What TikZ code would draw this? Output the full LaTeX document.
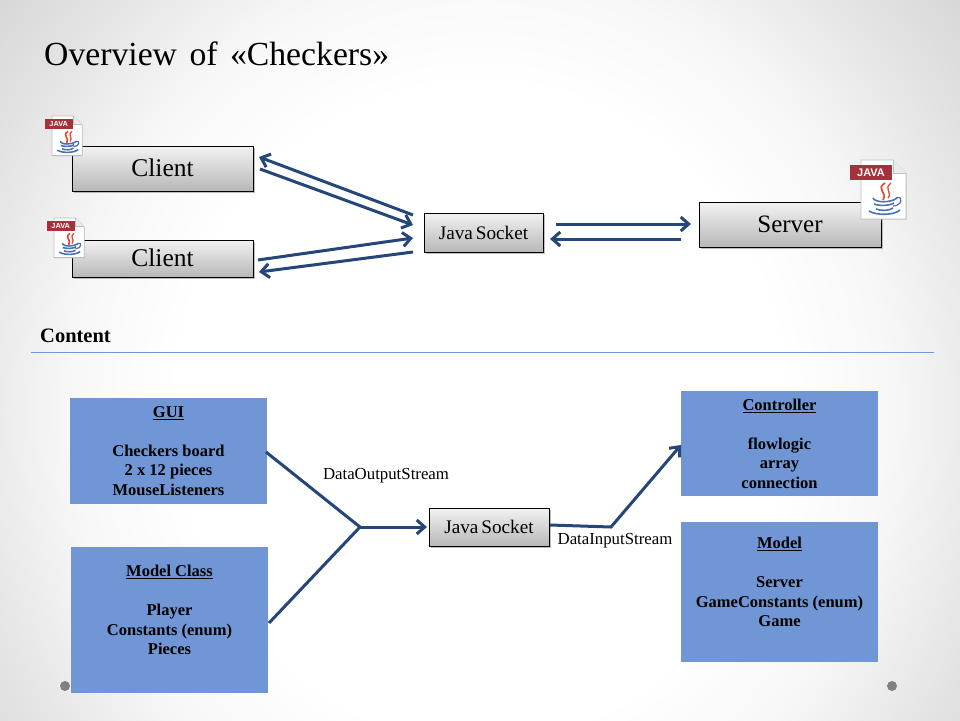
\documentclass[tikz,border=0pt]{standalone}
\usepackage{fontspec}
\setmainfont{Liberation Serif}
\newfontfamily\iconfont{Liberation Sans}
\usetikzlibrary{shadows,arrows.meta}
\definecolor{boxblue}{HTML}{7096D5}
\definecolor{arrowblue}{HTML}{254679}
\definecolor{javared}{HTML}{A5323A}
\definecolor{cupblue}{HTML}{4C72AE}
\definecolor{steamred}{HTML}{E2472F}
\pgfdeclareradialshading{slidebg}{\pgfpoint{0bp}{0bp}}{color(0bp)=(white); color(14bp)=(white); color(19bp)=(white!97!black); color(24bp)=(white!90!black); color(32bp)=(white!80!black); color(50bp)=(white!74!black)}
\tikzset{
  x=1pt,y=-1pt,
  graybox/.style={draw=black,line width=0.8pt,top color=white!95!black,bottom color=white!72!black,inner sep=0pt,
    drop shadow={shadow xshift=1.8pt,shadow yshift=-2.4pt,fill=black!50,opacity=.5}},
  bluebox/.style={fill=boxblue,inner sep=0pt,align=center,font=\bfseries\fontsize{16.5}{19.5}\selectfont},
  flow/.style={draw=arrowblue,line width=3pt},
  flowarrow/.style={flow,-{Straight Barb[length=8pt,width=14pt,line width=3pt]}},
  streamlabel/.style={inner sep=0pt,font=\fontsize{16.8}{19}\selectfont},
  pics/javaicon/.style={code={
    \path[draw=black!25,fill=white,line width=.6pt,drop shadow={shadow xshift=.8pt,shadow yshift=-.8pt,fill=black!30,opacity=.5}]
      (0,0)--(32,0)--(45,13)--(45,59)--(0,59)--cycle;
    \path[draw=black!25,fill=black!8,line width=.5pt] (32,0)--(32,13)--(45,13);
    \path[fill=javared] (-11,5) rectangle (31,20);
    \node[text=white,inner sep=0pt,font=\iconfont\bfseries\fontsize{11}{11}\selectfont] (-label) at (10,12.5) {JAVA};
    \path[draw=steamred,line width=1.6pt] (24,23) .. controls (14,29) and (27,32) .. (22,40);
    \path[draw=steamred,line width=1.3pt] (30,23) .. controls (22,29) and (32,32) .. (27,38);
    \path[draw=cupblue,line width=1.6pt] (12,38) .. controls (14,43) and (30,43) .. (36,38);
    \path[draw=cupblue,line width=1.6pt] (13,44) .. controls (18,46) and (28,46) .. (33,43);
    \path[draw=cupblue,line width=1.6pt] (15,49) .. controls (20,51) and (28,51) .. (32,48);
    \path[draw=cupblue,line width=1.2pt] (35,38) .. controls (43,35) and (41,46) .. (32,46);
    \path[draw=cupblue,line width=1.6pt] (8,51) .. controls (16,56) and (34,55) .. (39,50);
  }}
}
\begin{document}
\begin{tikzpicture}
\useasboundingbox (0,0) rectangle (960,720);
\begin{scope}
\clip (0,0) rectangle (960,720);
\path[shading=slidebg] (-60,-170) rectangle (1020,990);
\end{scope}

\node[anchor=base west,inner sep=0pt,font=\fontsize{33.7}{36}\selectfont] (title) at (44,65) {Overview\hspace{0.12em} of\hspace{0.12em} «Checkers»};

% upper nodes
\node[graybox,minimum width=181pt,minimum height=45pt,font=\fontsize{25.5}{28}\selectfont] (client1) at (162.5,168.5) {\raisebox{1pt}{Client}};
\node[graybox,minimum width=181pt,minimum height=37pt,font=\fontsize{25.5}{28}\selectfont] (client2) at (162.5,258.5) {\raisebox{1pt}{Client}};
\node[graybox,minimum width=182pt,minimum height=45pt,font=\fontsize{25}{28}\selectfont] (server) at (790,224.5) {\raisebox{1pt}{Server}};
\node[graybox,minimum width=119pt,minimum height=39pt,font=\fontsize{19.2}{22}\selectfont] (socket1) at (483.5,232.5) {Java\hspace{-.1em} Socket};

\pic (icona) at (52,116) [scale=.67,transform shape] {javaicon};
\pic (iconb) at (54,218) [scale=.67,transform shape] {javaicon};
\pic (iconc) at (861,160) {javaicon};

% upper connectors
\coordinate (c1in) at (259,157);
\coordinate (c1out) at (260,169);
\coordinate (c2out) at (258,260);
\coordinate (c2in) at (259,272);
\coordinate (s1a) at (413,215);
\coordinate (s1b) at (413,225);
\coordinate (s1c) at (413,238);
\coordinate (s1d) at (413,252);
\coordinate (s1r1) at (556,224);
\coordinate (s1r2) at (550,239);
\coordinate (sv1) at (691,224);
\coordinate (sv2) at (681,239);
\draw[flowarrow] (s1a) -- (c1in);
\draw[flowarrow] (c1out) -- (s1b);
\draw[flowarrow] (c2out) -- (s1c);
\draw[flowarrow] (s1d) -- (c2in);
\draw[flowarrow] (s1r1) -- (sv1);
\draw[flowarrow] (sv2) -- (s1r2);

% content header
\node[anchor=base west,inner sep=0pt,font=\bfseries\fontsize{20.5}{22}\selectfont] (content) at (40,342) {Content};
\coordinate (ruleL) at (31,352);
\coordinate (ruleR) at (934,352);
\draw[boxblue,line width=.8pt] (ruleL) -- (ruleR);

% blue boxes
\node[bluebox,minimum width=197pt,minimum height=106pt] (gui) at (168.5,451) {\underline{GUI}\\[19.5pt]Checkers board\\2 x 12 pieces\\MouseListeners};
\node[bluebox,minimum width=197pt,minimum height=146pt] (modelclass) at (169.5,620) {\underline{Model Class}\\[19.5pt]Player\\Constants (enum)\\Pieces\\~};
\node[bluebox,minimum width=197pt,minimum height=105pt] (controller) at (779.5,443.5) {\underline{Controller}\\[19.5pt]flowlogic\\array\\connection};
\node[bluebox,minimum width=197pt,minimum height=140pt] (model) at (779.5,592) {\underline{Model}\\[19.5pt]Server\\GameConstants (enum)\\Game\\~};
\node[graybox,minimum width=120pt,minimum height=38pt,font=\fontsize{19.2}{22}\selectfont] (socket2) at (489,527) {Java\hspace{-.1em} Socket};

% lower connectors
\coordinate (join) at (360,527);
\coordinate (bend) at (611,527);
\coordinate (guiout) at (266,452);
\coordinate (mcout) at (269,623);
\coordinate (sockin) at (427,527);
\coordinate (sockout) at (550,525);
\coordinate (ctrlin) at (681,445);
\draw[flow] (guiout) -- (join);
\draw[flow] (mcout) -- (join);
\draw[flowarrow] (join) -- (sockin);
\draw[flowarrow] (sockout) -- (bend) -- (ctrlin);

\node[streamlabel] (dos) at (386,476) {DataOutputStream};
\node[streamlabel] (dis) at (615,541) {DataInputStream};

% slide dots
\fill[black!50] (65,686) circle (5);
\fill[black!50] (892,686) circle (5);
\end{tikzpicture}
\end{document}
